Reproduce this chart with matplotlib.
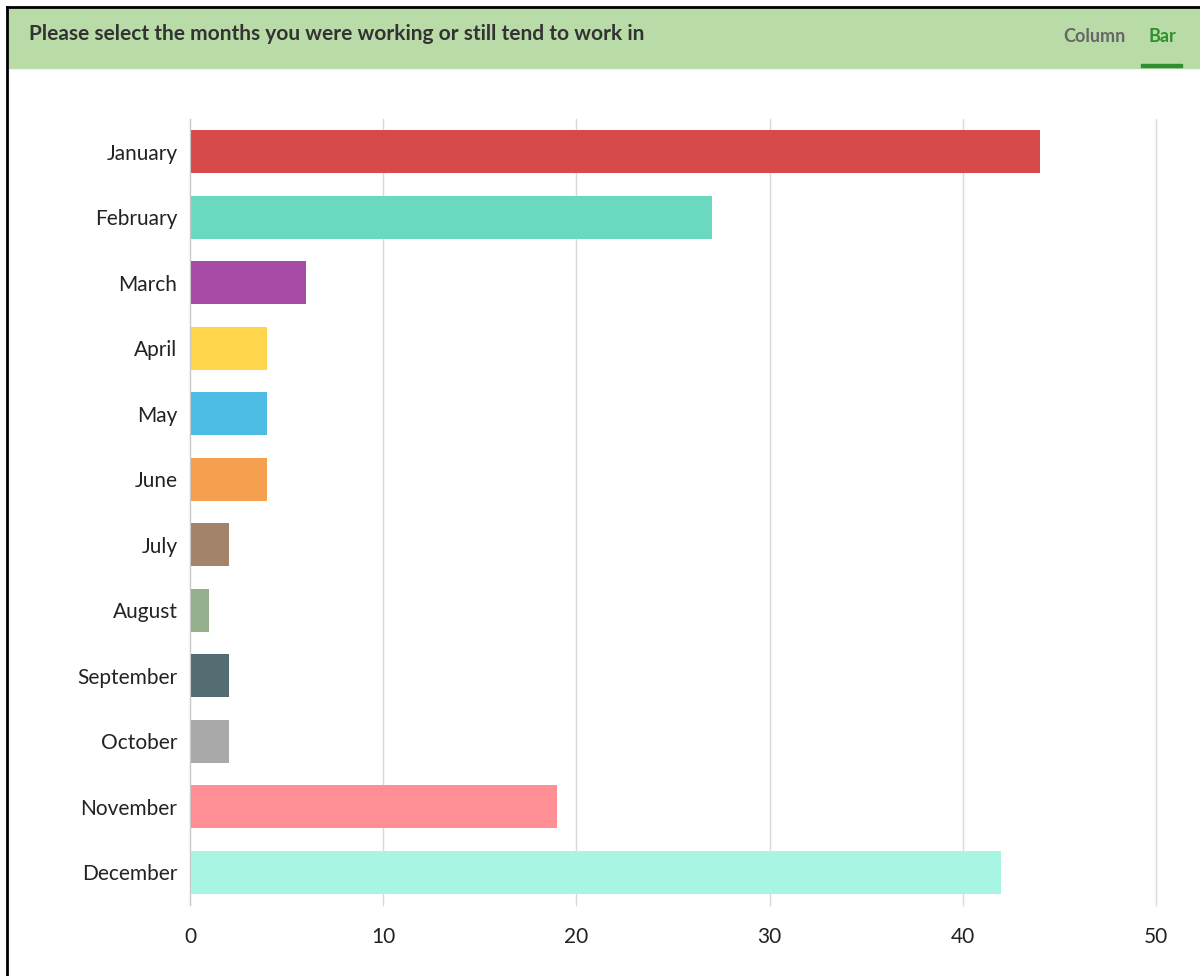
import matplotlib.pyplot as plt
from matplotlib.patches import Rectangle
from matplotlib.lines import Line2D

months = ["January", "February", "March", "April", "May", "June", "July",
          "August", "September", "October", "November", "December"]
counts = [44, 27, 6, 4, 4, 4, 2, 1, 2, 2, 19, 42]
colors = ["#d64a4b", "#6bd9bf", "#a64ca6", "#ffd54b", "#4dbde6", "#f5a04f",
          "#a3836a", "#94b08c", "#546d72", "#a9a9a9", "#ff8f95", "#a9f5e4"]
xticks = [0, 10, 20, 30, 40, 50]
title = "Please select the months you were working or still tend to work in"

plt.rcParams['font.family'] = ['Lato', 'DejaVu Sans']

W, H = 1200, 976
fig = plt.figure(figsize=(W / 100, H / 100), dpi=100)

# header band and frame
fig.patches.append(Rectangle((8 / W, 1 - 68 / H), 1 - 8 / W, 60 / H,
                             transform=fig.transFigure, color="#b9dba7", zorder=0))
fig.lines.append(Line2D([7 / W, 1], [1 - 7 / H, 1 - 7 / H], transform=fig.transFigure,
                        color="black", lw=2))
fig.lines.append(Line2D([7 / W, 7 / W], [0, 1 - 7 / H], transform=fig.transFigure,
                        color="black", lw=2))
fig.patches.append(Rectangle((1141 / W, 1 - 67 / H), 41 / W, 3 / H,
                             transform=fig.transFigure, color="#2f8f2f", zorder=2))
fig.text(29 / W, 1 - 34 / H, title, fontsize=15, fontweight="bold",
         color="#333333", va="center", ha="left")
fig.text(1094 / W, 1 - 36 / H, "Column", fontsize=13, fontweight="bold",
         color="#666666", va="center", ha="center")
fig.text(1162 / W, 1 - 36 / H, "Bar", fontsize=13, fontweight="bold",
         color="#2f8f2f", va="center", ha="center")

ax = fig.add_axes([190 / W, 1 - 905 / H, (1156 - 190) / W, (905 - 119) / H])
ypos = list(range(len(months)))
ax.barh(ypos, counts, height=0.66, color=colors, zorder=2)
ax.set_xlim(0, 50)
ax.set_ylim(len(months) - 0.5, -0.5)
ax.set_yticks(ypos)
ax.set_yticklabels(months, fontsize=15, color="#222222")
ax.set_xticks(xticks)
ax.set_xticklabels([str(t) for t in xticks], fontsize=15, color="#222222")
ax.tick_params(axis="both", length=0)
ax.tick_params(axis="y", pad=9)
ax.tick_params(axis="x", pad=16)
ax.grid(axis="x", color="#d9d9d9", lw=1, zorder=0)
for gl in ax.get_xgridlines():
    gl.set_clip_on(False)
for s in ["top", "right", "bottom"]:
    ax.spines[s].set_visible(False)
ax.spines["left"].set_color("#c8c8c8")
ax.spines["left"].set_zorder(3)

fig.savefig("out.png", dpi=100)
